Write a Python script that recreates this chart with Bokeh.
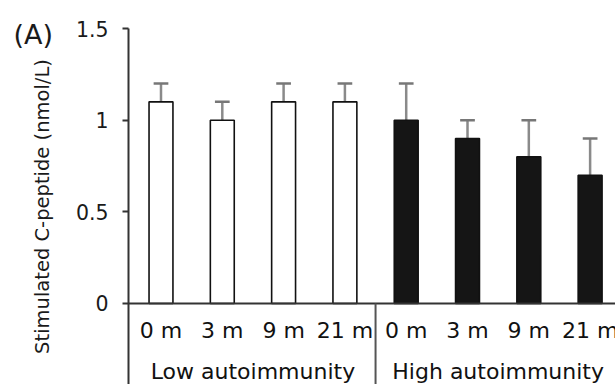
from bokeh.plotting import figure
from bokeh.models import Range1d, FixedTicker, LinearAxis
from bokeh.core.properties import value
from bokeh.embed import file_html
from bokeh.resources import INLINE

# ---- data ----
groups = ["Low autoimmunity", "High autoimmunity"]
months = ["0 m", "3 m", "9 m", "21 m"]
low_mean = [1.1, 1.0, 1.1, 1.1]
low_upper = [1.2, 1.1, 1.2, 1.2]
high_mean = [1.0, 0.9, 0.8, 0.7]
high_upper = [1.2, 1.0, 1.0, 0.9]
y_ticks = [0, 0.5, 1, 1.5]
y_tick_labels = ["0", "0.5", "1", "1.5"]

FONT = "DejaVu Sans"
n = len(months)
x_low = list(range(n))
x_high = [n + i for i in range(n)]
x_all = x_low + x_high
means = low_mean + high_mean
uppers = low_upper + high_upper

# ---- layout constants ----
X_START, X_END = -2.618, 7.414
AXIS_X = -0.53
Y_MIN, Y_MAX = -0.442, 1.653
Y_TOP = 1.5
MONTH_Y = -0.147
GROUP_Y = -0.371
PANEL_X, PANEL_Y = -2.406, 1.467
BAR_W = 0.39
CAP = 0.12

p = figure(width=615, height=384, output_backend="svg", toolbar_location=None,
           x_range=Range1d(X_START, X_END), y_range=Range1d(Y_MIN, Y_MAX),
           x_axis_location=None, y_axis_location=None, min_border=0)
p.grid.visible = False
p.outline_line_color = None
p.background_fill_color = "white"

# error bars (upper only)
p.segment(x0=x_all, y0=means, x1=x_all, y1=uppers, line_color="#8a8a8a", line_width=2.5)
p.segment(x0=[x - CAP for x in x_all], y0=uppers, x1=[x + CAP for x in x_all], y1=uppers,
          line_color="#777777", line_width=2.5)

# bars
p.vbar(x=x_low, top=low_mean, bottom=0, width=BAR_W, fill_color="white",
       line_color="#111111", line_width=1.6)
p.vbar(x=x_high, top=high_mean, bottom=0, width=BAR_W, fill_color="#151515",
       line_color="#111111", line_width=1.6)

# baseline and group separator
p.segment(x0=[AXIS_X], y0=[0], x1=[X_END], y1=[0], line_color="#333333", line_width=2)
p.segment(x0=[n - 0.5], y0=[0], x1=[n - 0.5], y1=[Y_MIN], line_color="#555555", line_width=2)

# category labels
p.text(x=x_all, y=[MONTH_Y] * len(x_all), text=months * 2,
       text_font=value(FONT), text_font_size="22px", text_align="center",
       text_baseline="middle", text_color="#111111")
p.text(x=[(n - 1) / 2, n + (n - 1) / 2], y=[GROUP_Y] * 2, text=groups,
       text_font=value(FONT), text_font_size="22px", text_align="center",
       text_baseline="middle", text_color="#111111")

# panel letter
p.text(x=[PANEL_X], y=[PANEL_Y], text=["(A)"], text_font=value(FONT),
       text_font_size="27px", text_align="left", text_baseline="middle",
       text_color="#1a1a1a")

# y axis
ya = LinearAxis(fixed_location=AXIS_X, bounds=(Y_MIN, Y_TOP))
ya.ticker = FixedTicker(ticks=y_ticks)
ya.major_label_overrides = dict(zip(y_ticks, y_tick_labels))
ya.axis_line_width = 2
ya.axis_line_color = "#333333"
ya.major_tick_line_width = 2
ya.major_tick_line_color = "#333333"
ya.major_tick_out = 6
ya.major_tick_in = 0
ya.minor_tick_line_color = None
ya.major_label_text_font = FONT
ya.major_label_text_font_size = "20.5px"
ya.major_label_text_color = "#1a1a1a"
ya.major_label_standoff = 14
ya.axis_label = "Stimulated C-peptide (nmol/L)"
ya.axis_label_text_font = FONT
ya.axis_label_text_font_size = "19.5px"
ya.axis_label_text_font_style = "normal"
ya.axis_label_text_color = "#1a1a1a"
ya.axis_label_standoff = 19
p.add_layout(ya, "left")

open("out.html", "w").write(file_html(p, INLINE))
